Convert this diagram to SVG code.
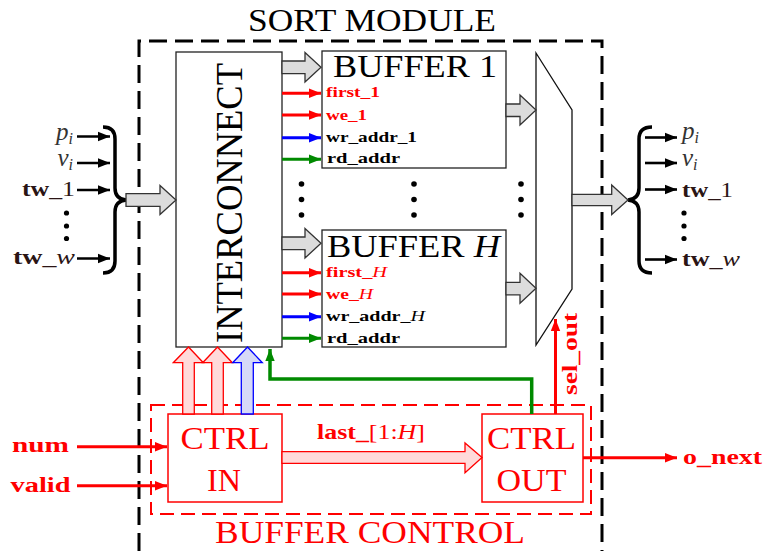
<svg xmlns="http://www.w3.org/2000/svg" width="764" height="551" viewBox="0 0 764 551" font-family="'Liberation Serif','DejaVu Serif',serif">
<defs>
<style>
text{font-family:"Liberation Serif","DejaVu Serif",serif}
.box{fill:#fff;stroke:#222;stroke-width:1.3}
.fat{fill:#dcdcdc;stroke:#333;stroke-width:1.3}
.fatr{fill:#ffdada;stroke:#ff0000;stroke-width:1.3}
.fatb{fill:#d6d9f7;stroke:#0000ff;stroke-width:1.3}
.sig{font-weight:bold;font-size:15px}
.big{font-size:31px}
.lab{font-size:21px}
.pv{font-size:25px;font-style:italic}
.red{fill:#ff0000}
.k{stroke:#000;stroke-width:2.6;fill:none}
.r{stroke:#ff0000;stroke-width:3;fill:none}
.b{stroke:#0000ff;stroke-width:3;fill:none}
.g{stroke:#008a00;stroke-width:3.5;fill:none}
</style>
<marker id="ak" markerUnits="userSpaceOnUse" markerWidth="13" markerHeight="12" refX="12" refY="6" orient="auto"><path d="M0,1.3 L12,6 L0,10.7 Z" fill="#000"/></marker>
<marker id="ar" markerUnits="userSpaceOnUse" markerWidth="13" markerHeight="12" refX="12" refY="6" orient="auto"><path d="M0,1.3 L12,6 L0,10.7 Z" fill="#ff0000"/></marker>
<marker id="ab" markerUnits="userSpaceOnUse" markerWidth="13" markerHeight="12" refX="12" refY="6" orient="auto"><path d="M0,1.3 L12,6 L0,10.7 Z" fill="#0000ff"/></marker>
<marker id="ag" markerUnits="userSpaceOnUse" markerWidth="13" markerHeight="12" refX="12" refY="6" orient="auto"><path d="M0,1.3 L12,6 L0,10.7 Z" fill="#008a00"/></marker>
</defs>
<rect width="764" height="551" fill="#fff"/>

<g id="sort-module">
<path d="M139,551 V41 H602 V551" fill="none" stroke="#000" stroke-width="3" stroke-dasharray="18 8"/>
<text class="big" x="372" y="31" text-anchor="middle" textLength="248" lengthAdjust="spacingAndGlyphs">SORT MODULE</text>
</g>

<g id="buffer-control">
<rect x="151" y="405" width="440" height="109" fill="none" stroke="#ff0000" stroke-width="2" stroke-dasharray="14 7"/>
<text class="big red" x="370" y="543" text-anchor="middle" textLength="310" lengthAdjust="spacingAndGlyphs">BUFFER CONTROL</text>
</g>

<g id="interconnect">
<rect class="box" x="176" y="52" width="106" height="295"/>
<text font-size="37" transform="translate(241.5,203) rotate(-90)" text-anchor="middle" textLength="280" lengthAdjust="spacingAndGlyphs">INTERCONNECT</text>
</g>

<g id="buffer-1">
<rect class="box" x="322" y="51" width="184" height="117"/>
<text class="big" x="333" y="77" textLength="164" lengthAdjust="spacingAndGlyphs">BUFFER 1</text>
<text class="sig red" x="326" y="97" textLength="54" lengthAdjust="spacingAndGlyphs">first_1</text>
<text class="sig red" x="326" y="119.5" textLength="41" lengthAdjust="spacingAndGlyphs">we_1</text>
<text class="sig" x="326" y="141.5" textLength="91" lengthAdjust="spacingAndGlyphs">wr_addr_1</text>
<text class="sig" x="327" y="163" textLength="73" lengthAdjust="spacingAndGlyphs">rd_addr</text>
</g>

<g id="buffer-h">
<rect class="box" x="322" y="230" width="184" height="117"/>
<text class="big" x="327" y="256.5" textLength="173" lengthAdjust="spacingAndGlyphs">BUFFER <tspan font-style="italic">H</tspan></text>
<text class="sig red" x="326" y="277" textLength="61" lengthAdjust="spacingAndGlyphs">first_<tspan font-style="italic" font-weight="normal">H</tspan></text>
<text class="sig red" x="326" y="298.5" textLength="47" lengthAdjust="spacingAndGlyphs">we_<tspan font-style="italic" font-weight="normal">H</tspan></text>
<text class="sig" x="326" y="321" textLength="99" lengthAdjust="spacingAndGlyphs">wr_addr_<tspan font-style="italic" font-weight="normal">H</tspan></text>
<text class="sig" x="327" y="342.5" textLength="73" lengthAdjust="spacingAndGlyphs">rd_addr</text>
</g>

<g id="mux">
<polygon points="536,53 572,110 572,289 536,345" fill="#fff" stroke="#111" stroke-width="1.3"/>
</g>

<g id="ctrl-in">
<rect x="168" y="414" width="114" height="88" fill="#fff" stroke="#ff0000" stroke-width="1.5"/>
<text class="big red" x="225" y="449" text-anchor="middle" textLength="89" lengthAdjust="spacingAndGlyphs">CTRL</text>
<text class="big red" x="224" y="490.5" text-anchor="middle" textLength="34" lengthAdjust="spacingAndGlyphs">IN</text>
</g>

<g id="ctrl-out">
<rect x="482" y="414" width="101" height="88" fill="#fff" stroke="#ff0000" stroke-width="1.5"/>
<text class="big red" x="531.5" y="449" text-anchor="middle" textLength="89" lengthAdjust="spacingAndGlyphs">CTRL</text>
<text class="big red" x="531.5" y="490.5" text-anchor="middle" textLength="70" lengthAdjust="spacingAndGlyphs">OUT</text>
</g>

<g id="inputs">
<text class="pv" x="73" y="140" text-anchor="end" fill="#333">p<tspan font-size="16" dy="4">i</tspan></text>
<text class="pv" x="73" y="166" text-anchor="end" fill="#333">v<tspan font-size="16" dy="4">i</tspan></text>
<text class="lab" x="75" y="196" text-anchor="end" fill="#2b1515" textLength="53" lengthAdjust="spacingAndGlyphs"><tspan font-weight="bold">tw</tspan>_1</text>
<text class="lab" x="75" y="264" text-anchor="end" fill="#2b1515" textLength="62" lengthAdjust="spacingAndGlyphs"><tspan font-weight="bold">tw</tspan>_<tspan font-style="italic">w</tspan></text>
<circle cx="66.5" cy="213" r="2.6"/><circle cx="66.5" cy="226" r="2.6"/><circle cx="66.5" cy="238.5" r="2.6"/>
<path d="M103,127 Q115,127 115,139 V188 Q115,199 126,200 Q115,201 115,212 V261 Q115,273 103,273" fill="none" stroke="#000" stroke-width="3.5"/>
</g>

<g id="outputs">
<text class="pv" x="682" y="139" fill="#333">p<tspan font-size="16" dy="4">i</tspan></text>
<text class="pv" x="682" y="166" fill="#333">v<tspan font-size="16" dy="4">i</tspan></text>
<text class="lab" x="682" y="196.5" fill="#2b1515" textLength="51" lengthAdjust="spacingAndGlyphs"><tspan font-weight="bold">tw</tspan>_1</text>
<text class="lab" x="682" y="266" fill="#2b1515" textLength="58" lengthAdjust="spacingAndGlyphs"><tspan font-weight="bold">tw</tspan>_<tspan font-style="italic">w</tspan></text>
<circle cx="684" cy="213" r="2.6"/><circle cx="684" cy="226" r="2.6"/><circle cx="684" cy="238.5" r="2.6"/>
<path d="M652,127 Q639,127 639,139 V188 Q639,199 628,200 Q639,201 639,212 V261 Q639,273 652,273" fill="none" stroke="#000" stroke-width="3.5"/>
</g>

<g id="ellipsis">
<circle cx="301.5" cy="184" r="2.8"/><circle cx="301.5" cy="199.5" r="2.8"/><circle cx="301.5" cy="215" r="2.8"/>
<circle cx="414" cy="184" r="2.8"/><circle cx="414" cy="199.5" r="2.8"/><circle cx="414" cy="215" r="2.8"/>
<circle cx="521" cy="184" r="2.8"/><circle cx="521" cy="199.5" r="2.8"/><circle cx="521" cy="215" r="2.8"/>
</g>

<g id="signal-labels">
<text class="lab red" x="69" y="452" text-anchor="end" font-weight="bold" textLength="57" lengthAdjust="spacingAndGlyphs">num</text>
<text class="lab red" x="70.5" y="492" text-anchor="end" font-weight="bold" textLength="60" lengthAdjust="spacingAndGlyphs">valid</text>
<text class="lab red" x="683" y="463.5" font-weight="bold" textLength="79" lengthAdjust="spacingAndGlyphs">o_next</text>
<text class="lab red" x="317" y="439" textLength="108" lengthAdjust="spacingAndGlyphs"><tspan font-weight="bold">last_</tspan>[1:<tspan font-style="italic">H</tspan>]</text>
<text class="lab red" font-weight="bold" transform="translate(577,395) rotate(-90)" textLength="82" lengthAdjust="spacingAndGlyphs">sel_out</text>
</g>

<g id="connectors">
<path class="k" d="M77,136.5 H110" marker-end="url(#ak)"/>
<path class="k" d="M77,163 H110" marker-end="url(#ak)"/>
<path class="k" d="M77,190 H110" marker-end="url(#ak)"/>
<path class="k" d="M77,258.5 H110" marker-end="url(#ak)"/>
<path class="k" d="M645,137.5 H677" marker-end="url(#ak)"/>
<path class="k" d="M645,163 H677" marker-end="url(#ak)"/>
<path class="k" d="M645,189.5 H677" marker-end="url(#ak)"/>
<path class="k" d="M645,259.5 H677" marker-end="url(#ak)"/>
<path class="fat" d="M126,193.7 H160 V185.5 L176,200 L160,214.5 V206.3 H126 Z"/>
<path class="fat" d="M282,61 H305 V52.5 L321,67.3 L305,82 V73.6 H282 Z"/>
<path class="fat" d="M282,237 H305 V228.5 L321,243.3 L305,258 V249.6 H282 Z"/>
<path class="fat" d="M506,104 H520 V95 L536,110 L520,125 V116.5 H506 Z"/>
<path class="fat" d="M506,282.3 H520 V273.3 L536,288.3 L520,303.3 V294.8 H506 Z"/>
<path class="fat" d="M572,194.3 H611.7 V185 L628,200 L611.7,214.5 V205.7 H572 Z"/>
<path class="r" d="M282,93.3 H321" marker-end="url(#ar)"/>
<path class="r" d="M282,115 H321" marker-end="url(#ar)"/>
<path class="b" d="M282,137.7 H321" marker-end="url(#ab)"/>
<path class="g" d="M282,159.3 H321" marker-end="url(#ag)" style="stroke-width:3"/>
<path class="r" d="M282,272.7 H321" marker-end="url(#ar)"/>
<path class="r" d="M282,294 H321" marker-end="url(#ar)"/>
<path class="b" d="M282,316.7 H321" marker-end="url(#ab)"/>
<path class="g" d="M282,338.3 H321" marker-end="url(#ag)" style="stroke-width:3"/>
<path class="fatr" d="M182.7,414 V362.7 H173.3 L188.5,347 L203.3,362.7 H194.3 V414 Z"/>
<path class="fatr" d="M211.7,414 V362.7 H202.7 L217.5,347 L232.3,362.7 H223.3 V414 Z"/>
<path class="fatb" d="M241.3,414 V362.7 H232.7 L247.5,347 L262.3,362.7 H253.3 V414 Z"/>
<path class="g" d="M531.7,414 V379 H270 V349" marker-end="url(#ag)"/>
<path class="r" d="M555.5,414 V319" marker-end="url(#ar)"/>
<path class="fatr" d="M282,451.7 H465 V443 L482,457.5 L465,472.7 V463.3 H282 Z"/>
<path class="r" d="M77,446.7 H167" marker-end="url(#ar)"/>
<path class="r" d="M77,485.7 H167" marker-end="url(#ar)"/>
<path class="r" d="M583,457.7 H677" marker-end="url(#ar)"/>
</g>
</svg>
